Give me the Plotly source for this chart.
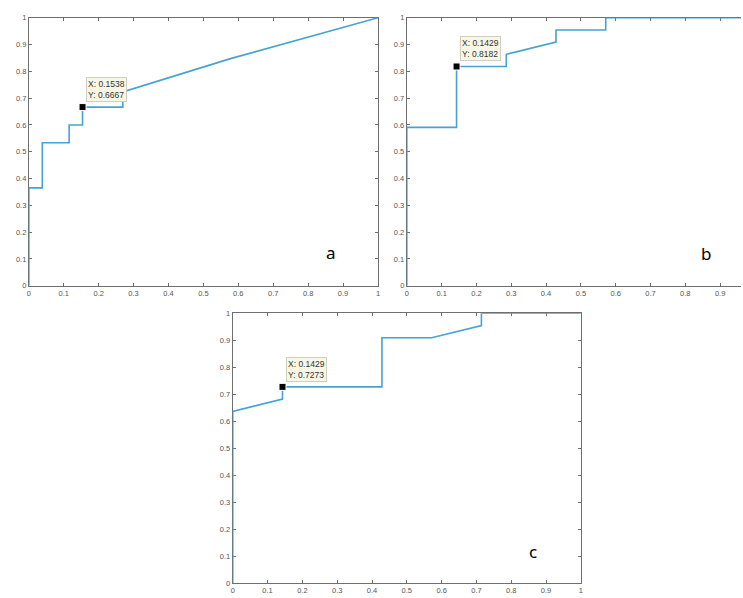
import plotly.graph_objects as go

# ---- data ----
fpr_a = [0, 0, 0.0385, 0.0385, 0.1154, 0.1154, 0.1538, 0.1538, 0.2692, 0.2692, 0.58, 1.0]
tpr_a = [0, 0.365, 0.365, 0.5333, 0.5333, 0.6, 0.6, 0.6667, 0.6667, 0.7234, 0.8485, 1.0]
fpr_b = [0, 0, 0.1429, 0.1429, 0.2857, 0.2857, 0.4286, 0.4286, 0.5714, 0.5714, 1.0]
tpr_b = [0, 0.5909, 0.5909, 0.8182, 0.8182, 0.8636, 0.9091, 0.9545, 0.9545, 1.0, 1.0]
fpr_c = [0, 0, 0.1429, 0.1429, 0.4286, 0.4286, 0.5714, 0.7143, 0.7143, 1.0]
tpr_c = [0, 0.6364, 0.6818, 0.7273, 0.7273, 0.9091, 0.9091, 0.9545, 1.0, 1.0]
tip_x = [0.1538, 0.1429, 0.1429]
tip_y = [0.6667, 0.8182, 0.7273]
panel_labels = ["a", "b", "c"]
tick_vals = [0, 0.1, 0.2, 0.3, 0.4, 0.5, 0.6, 0.7, 0.8, 0.9, 1]
tick_text = ["0", "0.1", "0.2", "0.3", "0.4", "0.5", "0.6", "0.7", "0.8", "0.9", "1"]

W, H = 743, 598
LINE = "#45a2d2"
FRAME = "#6e6e6e"

fig = go.Figure()

series = [(fpr_a, tpr_a), (fpr_b, tpr_b), (fpr_c, tpr_c)]
for i, (xs, ys) in enumerate(series):
    ax = "" if i == 0 else str(i + 1)
    fig.add_trace(go.Scatter(x=xs, y=ys, mode="lines", line=dict(color=LINE, width=1.6),
                             xaxis="x" + ax, yaxis="y" + ax, cliponaxis=False,
                             showlegend=False, hoverinfo="skip"))
    fig.add_trace(go.Scatter(x=[tip_x[i]], y=[tip_y[i]], mode="markers",
                             marker=dict(symbol="square", size=7, color="black",
                                         line=dict(color="white", width=1)),
                             xaxis="x" + ax, yaxis="y" + ax, cliponaxis=False,
                             showlegend=False, hoverinfo="skip"))
    fig.add_annotation(x=tip_x[i], y=tip_y[i], xref="x" + ax, yref="y" + ax,
                       text=f"X: {tip_x[i]:.4f}<br>Y: {tip_y[i]:.4f}",
                       showarrow=False, xanchor="left", yanchor="bottom",
                       xshift=3, yshift=5, align="left",
                       font=dict(family="Liberation Sans, Arial", size=8.5, color="#333"),
                       bgcolor="#f8f7e6", bordercolor="#cfcfc0", borderwidth=1, borderpad=1)

axis_common = dict(showgrid=False, zeroline=False, showline=True, linecolor=FRAME,
                   linewidth=1, ticks="inside", ticklen=3, tickcolor=FRAME,
                   tickvals=tick_vals, ticktext=tick_text, layer="below traces",
                   tickfont=dict(family="Liberation Sans, Arial", size=7.5, color="#555"))

fig.update_layout(
    xaxis=dict(domain=[27 / W, 378 / W], range=[0, 1], anchor="y", mirror="ticks", **axis_common),
    yaxis=dict(domain=[1 - 286 / H, 1 - 14 / H], range=[0, 1], anchor="x", mirror="ticks", **axis_common),
    xaxis2=dict(domain=[407 / W, 1], range=[0, (W - 407) / 350], anchor="y2", mirror="ticks", **axis_common),
    yaxis2=dict(domain=[1 - 286 / H, 1 - 14 / H], range=[0, 1], anchor="x2", mirror=False, **axis_common),
    xaxis3=dict(domain=[232 / W, 582 / W], range=[0, 1], anchor="y3", mirror="ticks", **axis_common),
    yaxis3=dict(domain=[1 - 588 / H, 1 - 314 / H], range=[0, 1], anchor="x3", mirror="ticks", **axis_common),
)

label_pos = [(331, 252), (708, 253), (534, 556)]
for lab, (px, py) in zip(panel_labels, label_pos):
    fig.add_annotation(x=px / W, y=1 - py / H, xref="paper", yref="paper", text=lab,
                       showarrow=False, xanchor="center", yanchor="middle",
                       font=dict(family="Noto Sans, DejaVu Sans", size=17, color="black"))

fig.update_layout(width=W, height=H, margin=dict(l=0, r=0, t=0, b=0),
                  paper_bgcolor="white", plot_bgcolor="white")

fig.write_html("out.html", config={"displayModeBar": False},
               post_script="document.body.style.margin='0';document.body.style.overflow='hidden';")
